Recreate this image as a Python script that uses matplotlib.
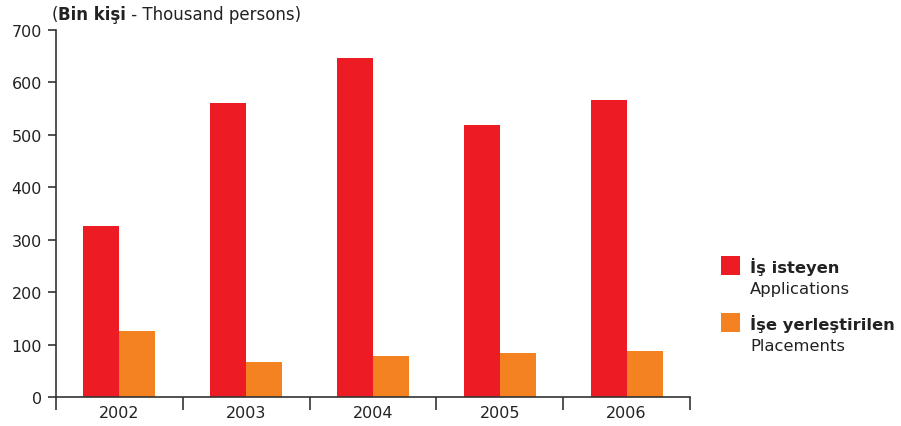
import numpy as np
import matplotlib.pyplot as plt
from matplotlib.patches import Rectangle

years = ["2002", "2003", "2004", "2005", "2006"]
applications = [326, 560, 647, 518, 566]
placements = [126, 67, 78, 84, 88]

red = "#ED1C24"
orange = "#F58220"
dark = "#333333"

plt.rcParams["font.family"] = ["DejaVu Sans"]

fig = plt.figure(figsize=(9.01, 4.27), dpi=100)
ax = fig.add_axes([56 / 901, 29 / 427, 634 / 901, 367 / 427])

x = np.arange(len(years)) + 0.5
w = 0.284
ax.bar(x - w / 2, applications, w, color=red, linewidth=0)
ax.bar(x + w / 2, placements, w, color=orange, linewidth=0)

ax.set_xlim(0, len(years))
ax.set_ylim(0, 700)
ax.set_yticks(range(0, 701, 100))
ax.set_xticks(range(0, len(years) + 1))
ax.set_xticklabels([])
ax.set_xticks(x, minor=True)
ax.set_xticklabels(years, minor=True)
ax.tick_params(axis="x", which="minor", length=0, pad=6, labelsize=11.5, labelcolor="#222222")
ax.tick_params(axis="x", which="major", length=9, width=1.2, color=dark, direction="out")
ax.tick_params(axis="y", length=6, width=1.2, color=dark, labelsize=11.5, labelcolor="#222222", pad=4)

for s in ["top", "right"]:
    ax.spines[s].set_visible(False)
for s in ["left", "bottom"]:
    ax.spines[s].set_color(dark)
    ax.spines[s].set_linewidth(1.2)

# unit title, pieces placed one after another
renderer = fig.canvas.get_renderer()
xpos = 52 / 901
for txt, wt in [("(", "normal"), ("Bin kişi", "bold"), (" - Thousand persons)", "normal")]:
    t = fig.text(xpos, 1 - 15 / 427, txt, fontsize=12, fontweight=wt,
                 va="center", ha="left", color="#222222")
    bb = t.get_window_extent(renderer)
    xpos = bb.x1 / fig.bbox.width

# legend
for yc, col, bold, plain in [(267, red, "İş isteyen", "Applications"),
                             (324, orange, "İşe yerleştirilen", "Placements")]:
    fig.patches.append(Rectangle((721 / 901, 1 - (yc + 9) / 427), 19 / 901, 19 / 427,
                                 transform=fig.transFigure, color=col, linewidth=0))
    fig.text(750 / 901, 1 - yc / 427, bold, fontsize=11.8, fontweight="bold",
             va="center", ha="left", color="#222222")
    fig.text(750 / 901, 1 - (yc + 23) / 427, plain, fontsize=11.8,
             va="center", ha="left", color="#222222")

fig.savefig("out.png", dpi=100)
